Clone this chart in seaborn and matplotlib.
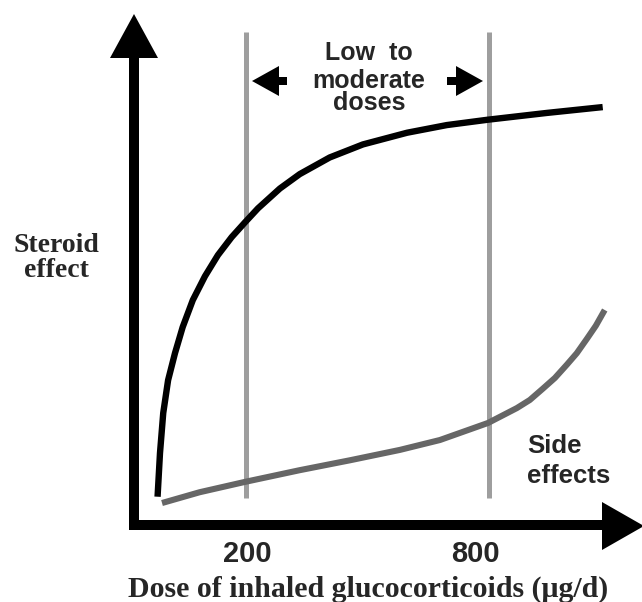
#!/usr/bin/env python3
"""Schematic dose-response of inhaled glucocorticoids."""
import numpy as np, pandas as pd
import matplotlib
matplotlib.use('Agg')
import matplotlib.pyplot as plt
import matplotlib.transforms as mtransforms
from matplotlib.patches import Polygon
import seaborn as sns

# values (dose in ug/d, effect in arbitrary units)
effect_dose = [-18, -12, -4, 8, 25, 44, 69, 99, 131, 165, 198, 230, 284, 333,
               407, 489, 598, 696, 798, 943, 1081]
effect_level = [6.3, 16.0, 24.9, 32.2, 38.2, 44.0, 50.0, 55.3, 60.0, 64.0, 67.3,
                70.4, 74.8, 78.0, 81.7, 84.6, 87.2, 88.9, 90.1, 91.6, 92.9]
side_dose = [-7, 86, 198, 333, 457, 580, 679, 798, 869, 901, 933, 963, 993,
             1017, 1042, 1064, 1086]
side_level = [4.9, 7.3, 9.6, 12.2, 14.4, 16.7, 18.9, 22.7, 26.0, 27.8, 30.3,
              32.7, 35.7, 38.2, 41.4, 44.3, 47.8]
dose_marks = [200, 800]
tick_labels = ['200', '800']

SANS = 'Liberation Sans'
SERIF = 'Liberation Serif'

sns.set_style('white')
plt.rcParams['font.family'] = ['Liberation Sans', 'DejaVu Sans']

fig = plt.figure(figsize=(6.42, 6.02), dpi=100)
ax = fig.add_axes([0, 0, 1, 1])
ax.set_xlim(-407, 1178)
ax.set_ylim(-17.1, 116.7)
ax.axis('off')

# pixel coords measured from top-left, for the decorations
PX = mtransforms.Affine2D().scale(1 / 642, -1 / 602).translate(0, 1) + fig.transFigure

# dose range markers
ax.vlines(dose_marks, 6, 109.6, color='#9e9e9e', lw=3.6, zorder=1)

df_eff = pd.DataFrame({'dose': effect_dose, 'level': effect_level})
df_side = pd.DataFrame({'dose': side_dose, 'level': side_level})
sns.lineplot(data=df_eff, x='dose', y='level', sort=False, color='black',
             lw=4.6, solid_capstyle='butt', solid_joinstyle='round', ax=ax, zorder=3)
sns.lineplot(data=df_side, x='dose', y='level', sort=False, color='#666666',
             lw=4.4, solid_capstyle='butt', solid_joinstyle='round', ax=ax, zorder=3)

# axes drawn as thick arrows
shapes = [
    [(129, 530), (139, 530), (139, 56), (129, 56)],
    [(110, 58), (158, 58), (134, 14)],
    [(129, 520), (604, 520), (604, 530), (129, 530)],
    [(602, 502), (602, 550), (644, 526)],
    [(252, 81), (279, 66), (279, 77), (287, 77), (287, 85), (279, 85), (279, 96)],
    [(483, 81), (456, 66), (456, 77), (447, 77), (447, 85), (456, 85), (456, 96)],
]
for pts in shapes:
    fig.patches.append(Polygon(pts, closed=True, facecolor='black',
                               edgecolor='none', transform=PX))

# tick labels
offsets = [1, -13]
for d, lab, off in zip(dose_marks, tick_labels, offsets):
    tr = mtransforms.offset_copy(ax.transData, fig=fig, x=off, y=0, units='dots')
    ax.text(d, (525 - 562) / 4.5, lab, transform=tr, ha='center', va='baseline',
            fontsize=21, fontweight='bold', family=SANS)

ax.text(368, 597, 'Dose of inhaled glucocorticoids (\u03bcg/d)', transform=PX,
        ha='center', va='baseline', fontsize=21.5, fontweight='bold', family=SERIF)
ax.text(56, 252, 'Steroid', transform=PX, ha='center', va='baseline',
        fontsize=20, fontweight='bold', family=SERIF)
ax.text(56, 277, 'effect', transform=PX, ha='center', va='baseline',
        fontsize=20, fontweight='bold', family=SERIF)

for txt, yb in [('Low  to', 60), ('moderate', 88), ('doses', 110)]:
    ax.text(369, yb, txt, transform=PX, ha='center', va='baseline',
            fontsize=18, fontweight='bold', family=SANS)

ax.text(527, 453, 'Side', transform=PX, ha='left', va='baseline',
        fontsize=18.5, fontweight='bold', family=SANS)
ax.text(527, 483, 'effects', transform=PX, ha='left', va='baseline',
        fontsize=18.5, fontweight='bold', family=SANS)

fig.savefig('out.png', dpi=100)
plt.close(fig)
